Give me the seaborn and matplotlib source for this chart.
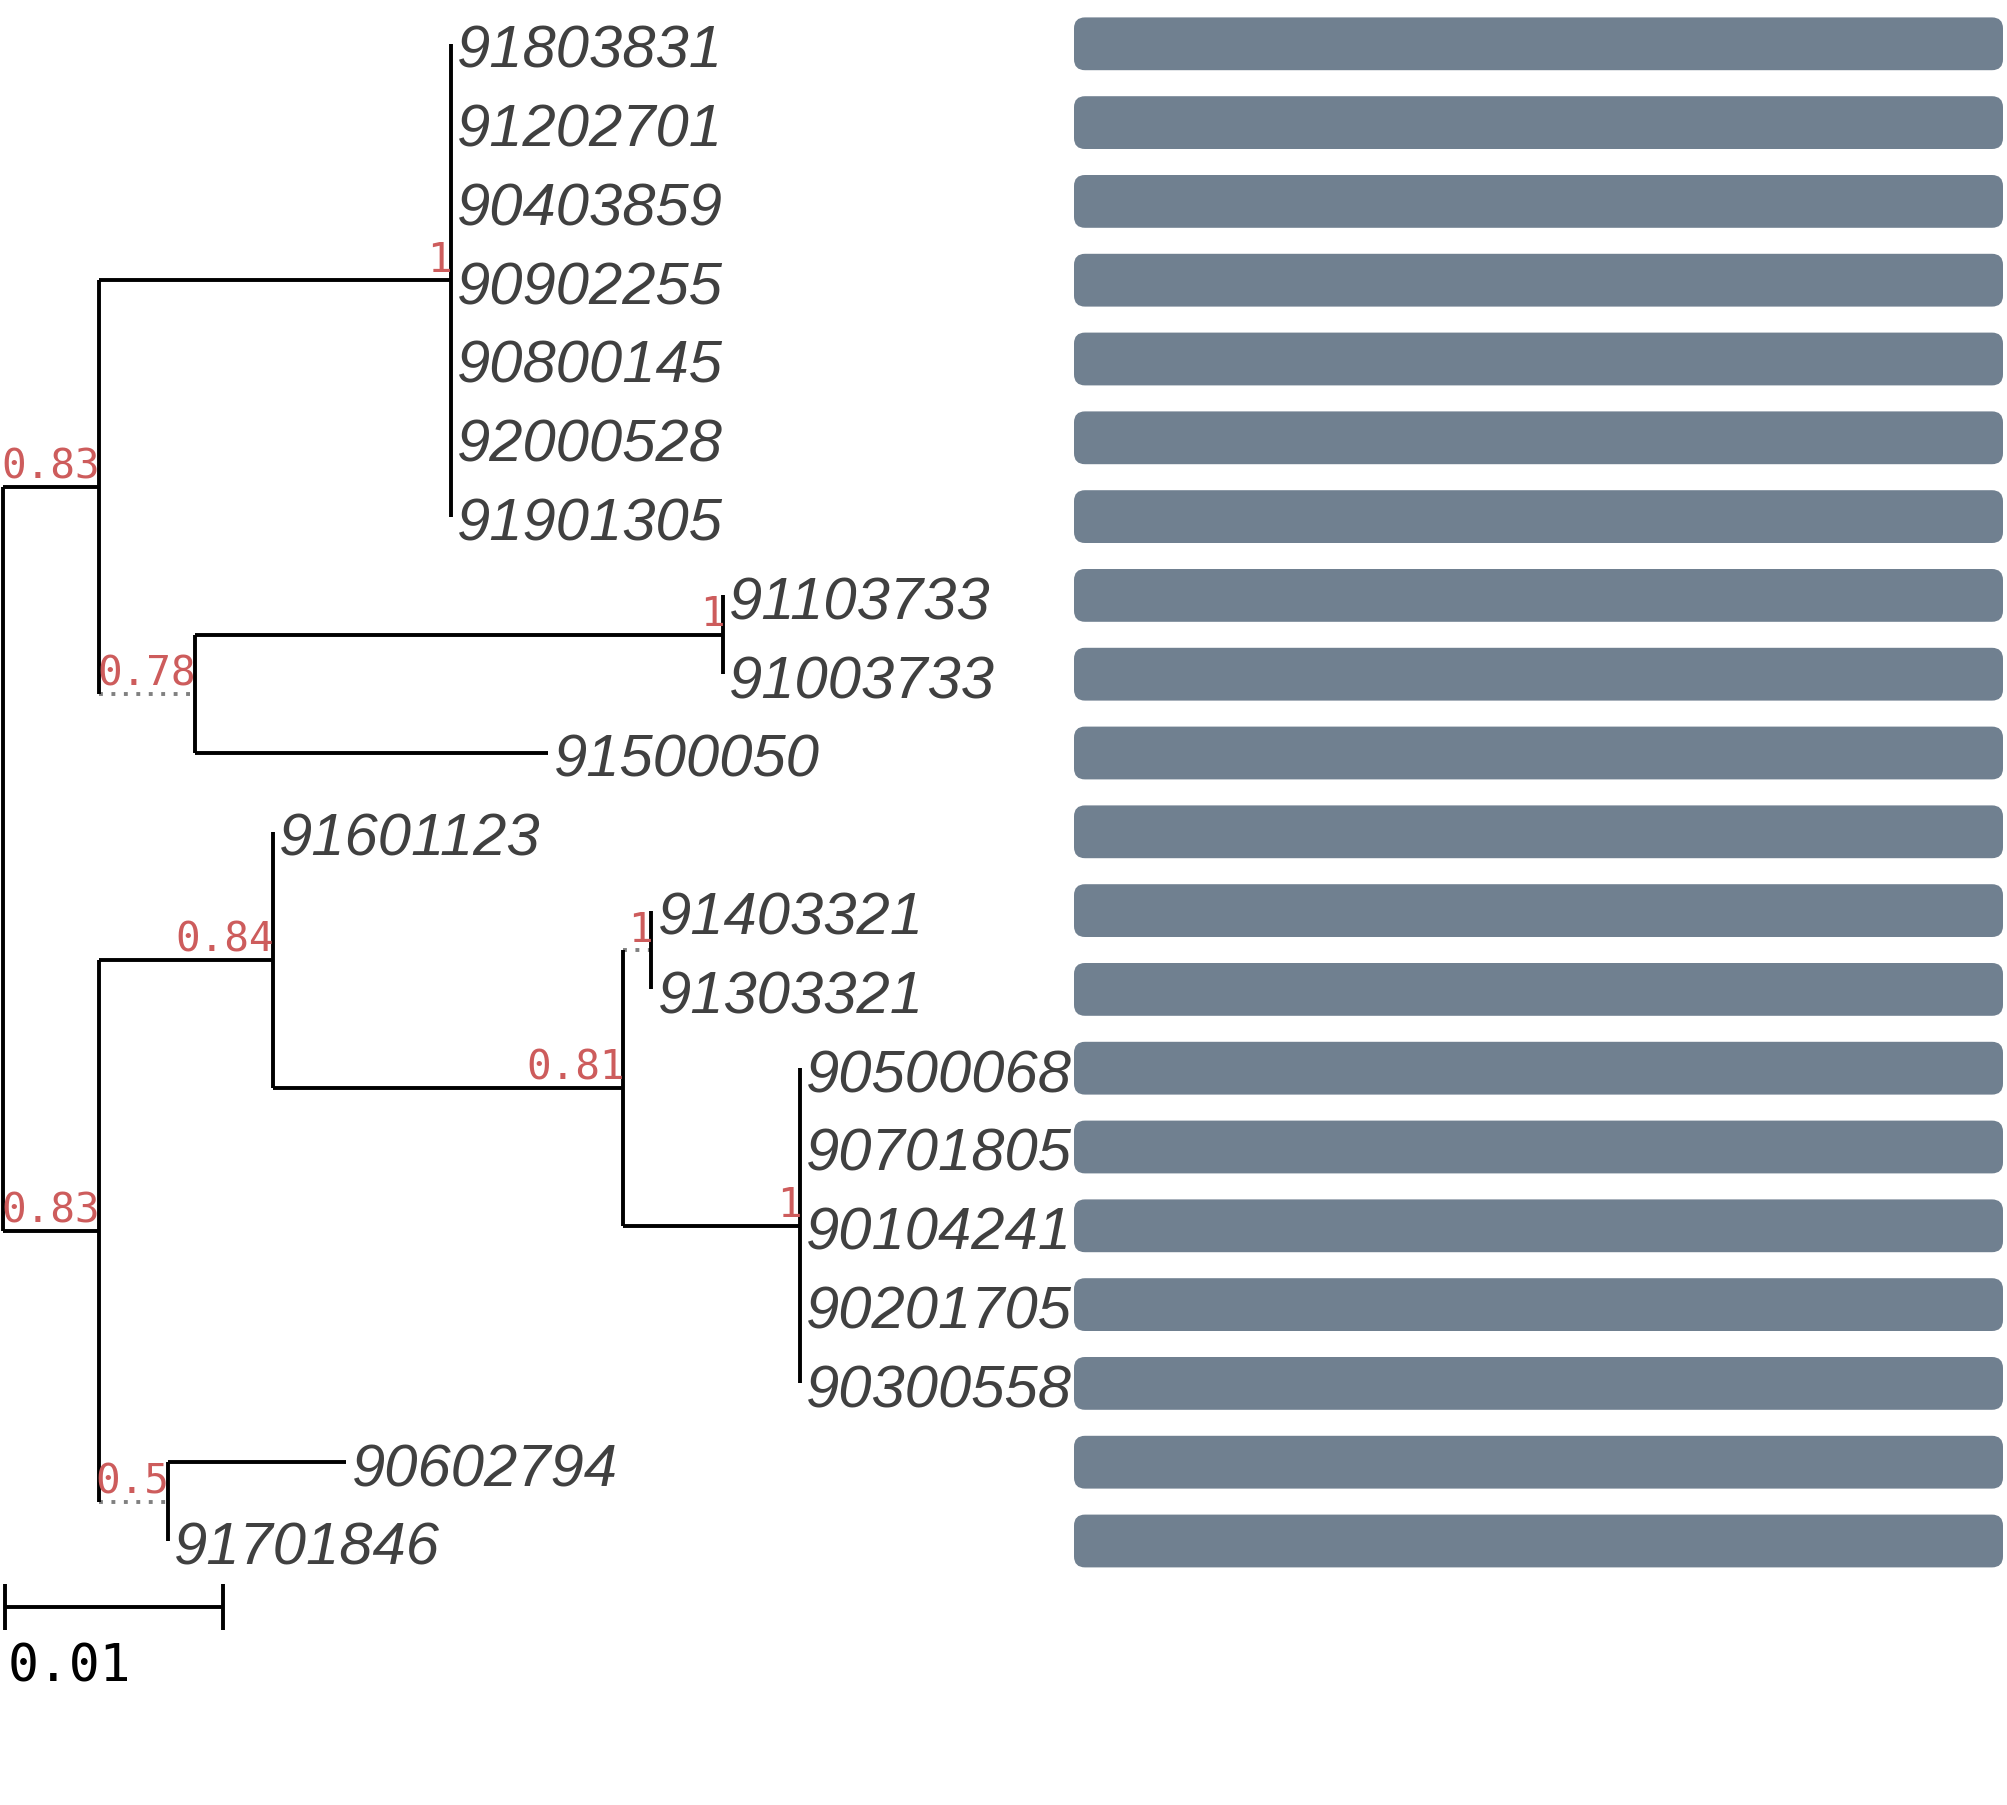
import matplotlib
matplotlib.use("Agg")
import matplotlib.pyplot as plt
from matplotlib.patches import FancyBboxPatch
import seaborn as sns
import pandas as pd

# ---------------- data ----------------
tip_names = ["91803831", "91202701", "90403859", "90902255", "90800145", "92000528",
             "91901305", "91103733", "91003733", "91500050", "91601123", "91403321",
             "91303321", "90500068", "90701805", "90104241", "90201705", "90300558",
             "90602794", "91701846"]
tip_parent = ["B1", "B1", "B1", "B1", "B1", "B1", "B1", "D", "D", "C", "F", "H", "H",
              "I", "I", "I", "I", "I", "J", "J"]
tip_length = [0, 0, 0, 0, 0, 0, 0, 0, 0, 0.01624, 0, 0, 0,
              0, 0, 0, 0, 0, 0.00818, 0]

node_names = ["root", "A", "B1", "C", "D", "E", "F", "G", "H", "I", "J"]
node_parent = [None, "root", "A", "A", "C", "root", "E", "F", "G", "G", "E"]
node_length = [0, 0.00441, 0.01618, 0.00441, 0.02430, 0.00441, 0.00800, 0.01612,
               0.00129, 0.00812, 0.00318]
node_support = ["", "0.83", "1", "0.78", "1", "0.83", "0.84", "0.81", "1", "1", "0.5"]
node_dotted = [False, False, False, True, False, False, False, False, True, False, True]

bar_values = [1, 1, 1, 1, 1, 1, 1, 1, 1, 1, 1, 1, 1, 1, 1, 1, 1, 1, 1, 1]
scale_length = 0.01
scale_label = "0.01"

# ---------------- layout of tree ----------------
parent_of = {}
length_of = {}
for n, p, l in zip(node_names, node_parent, node_length):
    parent_of[n] = p
    length_of[n] = l
for n, p, l in zip(tip_names, tip_parent, tip_length):
    parent_of[n] = p
    length_of[n] = l
children = {}
for n, p in parent_of.items():
    if p is not None:
        children.setdefault(p, []).append(n)

xpos = {}
def set_x(n, x0):
    xpos[n] = x0
    for c in children.get(n, []):
        set_x(c, x0 + length_of[c])
set_x("root", 0.0)

ypos = {t: i for i, t in enumerate(tip_names)}
def get_y(n):
    if n in ypos:
        return ypos[n]
    ys = [get_y(c) for c in children[n]]
    ypos[n] = (min(ys) + max(ys)) / 2
    return ypos[n]
get_y("root")

# ---------------- figure ----------------
sns.set_theme(style="white")
W, H, DPI = 2007, 1806, 100
fig = plt.figure(figsize=(W / DPI, H / DPI), dpi=DPI)

px_per_unit_x = 21760.0
root_px = 2.6
tip0_px = 44.8
px_per_tip = 78.8
ylim = (19 + (H - (tip0_px + 19 * px_per_tip)) / px_per_tip, -tip0_px / px_per_tip)

ax = fig.add_axes([0, 0, 1, 1])
ax.set_xlim(-root_px / px_per_unit_x, (W - root_px) / px_per_unit_x)
ax.set_ylim(*ylim)
ax.axis("off")

LW = 2.8
dotted_of = dict(zip(node_names, node_dotted))

# horizontal branches
for n, p in parent_of.items():
    if p is None:
        continue
    if length_of[n] <= 0:
        continue
    if dotted_of.get(n, False):
        ax.plot([xpos[p], xpos[n]], [ypos[n], ypos[n]], color="#808080", lw=LW,
                linestyle=(0, (1, 2.2)), solid_capstyle="butt", zorder=1)
    else:
        ax.plot([xpos[p], xpos[n]], [ypos[n], ypos[n]], color="black", lw=LW,
                solid_capstyle="butt", zorder=2)
# vertical connectors
for n in node_names:
    ys = [ypos[c] for c in children[n]]
    ax.plot([xpos[n], xpos[n]], [min(ys), max(ys)], color="black", lw=LW,
            solid_capstyle="butt", zorder=2)

# support labels
for n, s in zip(node_names, node_support):
    if s:
        ax.text(xpos[n] + 0.00006, ypos[n] - 0.12, s, ha="right", va="baseline",
                fontsize=29.5, family="DejaVu Sans Mono", color="#CD5C5C", zorder=3)

# tip labels
for t in tip_names:
    ax.text(xpos[t] + 0.00028, ypos[t] + 0.29, t, ha="left", va="baseline",
            fontsize=43, family=["Liberation Sans", "DejaVu Sans"], style="italic",
            color="#404040", zorder=3)

# scale bar
sb_y = (1608 - tip0_px) / px_per_tip
sb_x0 = 0.00011
ax.plot([sb_x0, sb_x0 + scale_length], [sb_y, sb_y], color="black", lw=LW,
        solid_capstyle="butt")
for xx in (sb_x0, sb_x0 + scale_length):
    ax.plot([xx, xx], [sb_y - 0.29, sb_y + 0.29], color="black", lw=LW,
            solid_capstyle="butt")
ax.text(0.00022, (1682 - tip0_px) / px_per_tip, scale_label, ha="left",
        va="baseline", fontsize=37, family="DejaVu Sans Mono", color="black")

# ---------------- bars ----------------
bar_left, bar_right = 1074, 2003
axb = fig.add_axes([bar_left / W, 0, (bar_right - bar_left) / W, 1])
df = pd.DataFrame({"tip": tip_names, "value": bar_values})
sns.barplot(data=df, x="value", y="tip", orient="h", color="#708090",
            saturation=1, width=0.67, ax=axb)
axb.set_xlim(0, 1)
axb.set_ylim(*ylim)
axb.axis("off")

# replace bars with rounded versions of the same extents
xunit_px = (bar_right - bar_left) / 1.0
aspect = (1 / px_per_tip) / (1 / xunit_px)
radius = 11 / xunit_px
for p in list(axb.patches):
    x, y, w, h = p.get_x(), p.get_y(), p.get_width(), p.get_height()
    fc = p.get_facecolor()
    p.remove()
    rp = FancyBboxPatch((x, y), w, h,
                        boxstyle=f"round,pad=0,rounding_size={radius}",
                        mutation_aspect=aspect, facecolor=fc, edgecolor="none")
    axb.add_patch(rp)

fig.savefig("out.png", dpi=DPI, facecolor="white")
